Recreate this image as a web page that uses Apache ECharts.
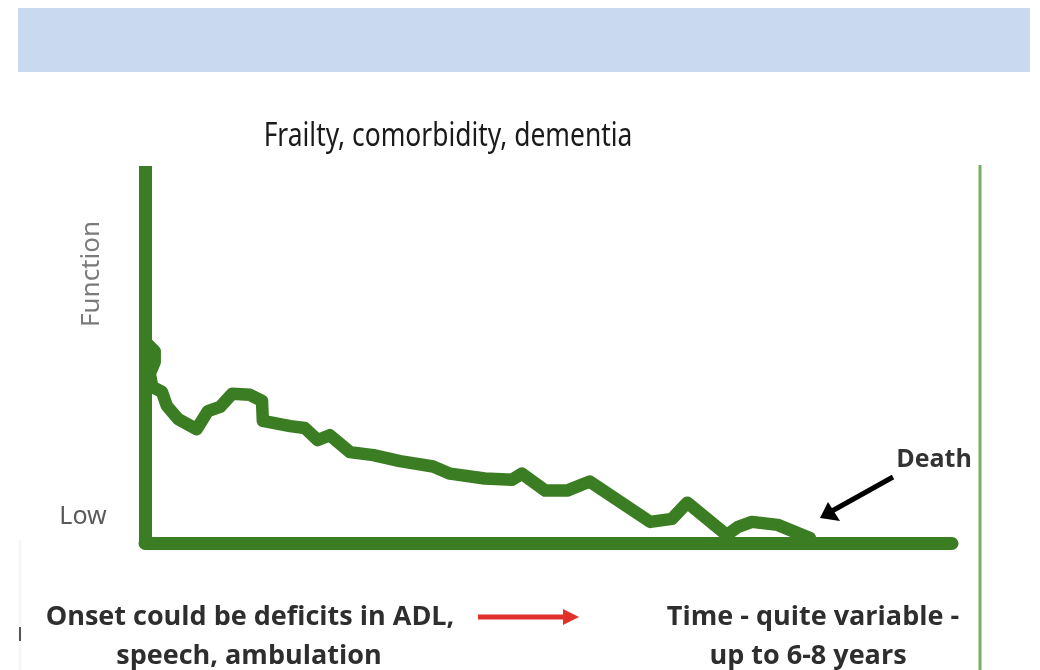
<!DOCTYPE html>
<html>
<head>
<meta charset="utf-8">
<script src="https://cdn.jsdelivr.net/npm/echarts@6/dist/echarts.min.js"></script>
<style>
html,body{margin:0;padding:0;background:#fff;}
#chart{width:1040px;height:670px;}
</style>
</head>
<body>
<div id="chart"></div>
<script>
// Time (0-100, arbitrary units) and Function (0-100, arbitrary units)
var timeValues = [0.4, 1.2, 1.2, 0.6, 0.9, 2.1, 2.7, 4.1, 6.4, 7.8, 9.3, 10.8, 13.0, 14.5, 14.6, 18.0, 19.8, 21.4, 22.9, 25.4, 28.3, 31.6, 35.7, 37.8, 42.1, 45.5, 46.7, 49.6, 52.3, 55.1, 62.6, 65.3, 67.2, 72.1, 73.5, 75.2, 78.4, 82.4];
var functionValues = [52.6, 50.9, 48.0, 44.9, 41.4, 40.1, 36.4, 32.9, 30.2, 35.0, 36.1, 39.6, 39.3, 37.7, 32.4, 31.0, 30.5, 27.3, 28.6, 24.1, 23.3, 21.7, 20.3, 18.4, 17.1, 16.8, 18.4, 13.9, 13.9, 16.3, 5.6, 6.4, 10.7, 2.1, 4.3, 5.6, 4.8, 1.3];
var titleText = 'Frailty, comorbidity, dementia';
var yAxisName = 'Function';
var lowLabel = 'Low';
var deathLabel = 'Death';
var onsetLines = ['Onset could be deficits in ADL,', 'speech, ambulation'];
var timeLines = ['Time - quite variable -', 'up to 6-8 years'];

var GREEN = '#3b7d23';
var points = timeValues.map(function (t, i) { return [t, functionValues[i]]; });

var chart = echarts.init(document.getElementById('chart'), null, {renderer: 'canvas'});
var boldFont = '"Open Sans", "DejaVu Sans", sans-serif';

chart.setOption({
  animation: false,
  backgroundColor: '#ffffff',
  grid: {left: 145, top: 166, right: 88, bottom: 127, containLabel: false},
  xAxis: {
    type: 'value', min: 0, max: 100,
    axisLine: {show: true, lineStyle: {color: GREEN, width: 13, cap: 'round'}},
    axisTick: {show: false}, axisLabel: {show: false}, splitLine: {show: false}
  },
  yAxis: {
    type: 'value', min: 0, max: 100,
    axisLine: {show: true, lineStyle: {color: GREEN, width: 13, cap: 'butt'}},
    axisTick: {show: false}, axisLabel: {show: false}, splitLine: {show: false}
  },
  series: [{
    type: 'line',
    data: points,
    showSymbol: false,
    smooth: false,
    clip: false,
    z: 5,
    lineStyle: {color: GREEN, width: 12.5, cap: 'round', join: 'round'}
  }],
  graphic: [
    {type: 'rect', shape: {x: 18, y: 8, width: 1012, height: 64}, style: {fill: '#c9d9ef'}, z: 0},
    {type: 'text', x: 448, y: 137, scaleX: 0.8, style: {text: titleText, fill: '#1a1a1a', font: '33px "Noto Sans", sans-serif', textAlign: 'center', textVerticalAlign: 'middle'}},
    {type: 'text', x: 92, y: 274, rotation: Math.PI / 2, style: {text: yAxisName, fill: '#7a7a7a', font: '26px "Noto Sans", sans-serif', textAlign: 'center', textVerticalAlign: 'middle'}},
    {type: 'text', x: 83, y: 517, style: {text: lowLabel, fill: '#5a5a5a', font: '25px "Noto Sans", sans-serif', textAlign: 'center', textVerticalAlign: 'middle'}},
    {type: 'line', shape: {x1: 980, y1: 165, x2: 980, y2: 670}, style: {stroke: '#77b060', lineWidth: 3}},
    {type: 'text', x: 934, y: 460, style: {text: deathLabel, fill: '#333', font: 'bold 25px ' + boldFont, textAlign: 'center', textVerticalAlign: 'middle'}},
    {type: 'line', shape: {x1: 893, y1: 477, x2: 832, y2: 511}, style: {stroke: '#000', lineWidth: 5}},
    {type: 'polygon', shape: {points: [[820, 518], [828, 502], [840, 521]]}, style: {fill: '#000'}},
    {type: 'text', x: 250, y: 617, style: {text: onsetLines[0], fill: '#2e2e2e', font: 'bold 27px ' + boldFont, textAlign: 'center', textVerticalAlign: 'middle'}},
    {type: 'text', x: 249, y: 656, style: {text: onsetLines[1], fill: '#2e2e2e', font: 'bold 27px ' + boldFont, textAlign: 'center', textVerticalAlign: 'middle'}},
    {type: 'line', shape: {x1: 478, y1: 617, x2: 566, y2: 617}, style: {stroke: '#e0312b', lineWidth: 5}},
    {type: 'polygon', shape: {points: [[579, 617], [563, 609], [563, 625]]}, style: {fill: '#e0312b'}},
    {type: 'text', x: 813, y: 617, style: {text: timeLines[0], fill: '#2e2e2e', font: 'bold 27px ' + boldFont, textAlign: 'center', textVerticalAlign: 'middle'}},
    {type: 'text', x: 808, y: 656, style: {text: timeLines[1], fill: '#2e2e2e', font: 'bold 27px ' + boldFont, textAlign: 'center', textVerticalAlign: 'middle'}},
    {type: 'line', shape: {x1: 20, y1: 540, x2: 20, y2: 670}, style: {stroke: '#f5f6f9', lineWidth: 3}},
    {type: 'line', shape: {x1: 20, y1: 627, x2: 20, y2: 641}, style: {stroke: '#555', lineWidth: 2}}
  ]
});
</script>
</body>
</html>
